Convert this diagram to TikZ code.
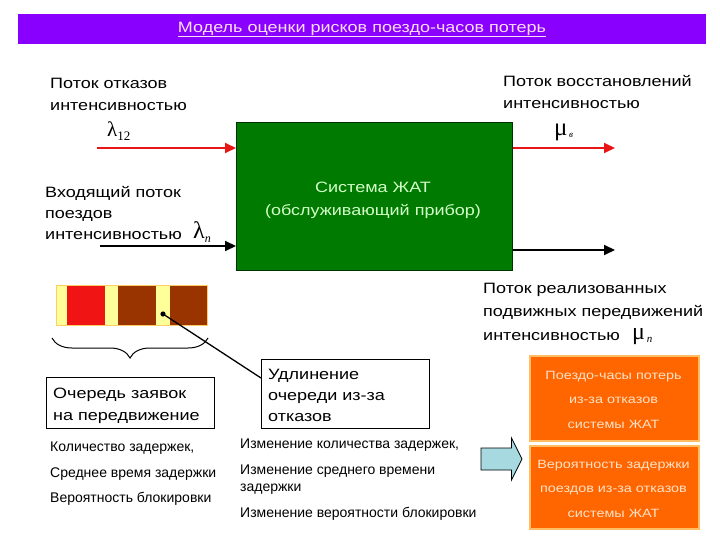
\documentclass[tikz,border=0pt]{standalone}
\usepackage{fontspec}
\setmainfont[FakeStretch=1.2]{Liberation Sans}
\newfontfamily\plainsans{Liberation Sans}
\newfontfamily\srf{Liberation Serif}
\usetikzlibrary{arrows.meta,decorations.pathreplacing}
\definecolor{ttlbg}{RGB}{138,0,255}
\definecolor{ttltx}{RGB}{255,222,245}
\definecolor{gbox}{RGB}{0,122,0}
\definecolor{gboxd}{RGB}{0,50,0}
\definecolor{gtext}{RGB}{210,255,200}
\definecolor{redarr}{RGB}{232,22,22}
\definecolor{qyel}{RGB}{255,255,153}
\definecolor{qred}{RGB}{240,20,20}
\definecolor{qbrown}{RGB}{153,51,0}
\definecolor{qedge}{RGB}{255,204,102}
\definecolor{obox}{RGB}{255,102,0}
\definecolor{oedge}{RGB}{255,190,100}
\definecolor{otext}{RGB}{255,226,200}
\definecolor{barrow}{RGB}{166,217,224}
\tikzset{
  lbl/.style={inner sep=0pt, anchor=base west, align=left, font=\fontsize{15}{21.5}\selectfont},
  small/.style={inner sep=0pt, anchor=base west, align=left, font=\plainsans\fontsize{14}{16}\selectfont},
  frame/.style={draw=black, line width=0.9pt, fill=white},
  flow/.style={line width=2pt, -{Triangle[length=11pt,width=10pt]}},
  obx/.style={fill=obox, draw=oedge, line width=1.5pt},
  otx/.style={inner sep=0pt, anchor=base, text=otext, font=\fontsize{12}{14}\selectfont},
}
\begin{document}
\begin{tikzpicture}[x=1pt,y=-1pt]
\useasboundingbox (0,0) rectangle (720,540);
\fill[white] (0,0) rectangle (720,540);
% title
\fill[ttlbg] (18,14) rectangle (706,44);
\node[inner sep=0pt, text=ttltx, font=\fontsize{15}{18}\selectfont] (title) at (362,29.5) {\underline{Модель оценки рисков поездо-часов потерь}};
% green box
\node[draw=gboxd, fill=gbox, line width=1pt, minimum width=276pt, minimum height=148pt, anchor=north west, inner sep=0pt] (sys) at (236,122) {};
\node[inner sep=0pt, anchor=base, align=center, text=gtext, font=\fontsize{15}{23}\selectfont] (systx) at (373,215) {Система ЖАТ\\(обслуживающий прибор)};
% left labels
\node[lbl, font=\fontsize{15}{22}\selectfont] (fail) at (50,111) {Поток отказов\\интенсивностью};
\node[inner sep=0pt, anchor=base west, font=\srf\fontsize{21}{22}\selectfont] (lam12) at (107,137) {λ\raisebox{-4pt}{\fontsize{13}{14}\selectfont 12}};
\node[lbl] (inc) at (45,240) {Входящий поток\\поездов\\интенсивностью};
\node[inner sep=0pt, anchor=base west, font=\srf\fontsize{24}{25}\selectfont] (lamp) at (193,238) {λ\raisebox{-4pt}{\itshape\fontsize{12}{13}\selectfont п}};
% right labels
\node[lbl, font=\fontsize{15}{22}\selectfont] (rest) at (503,109) {Поток восстановлений\\интенсивностью};
\node[inner sep=0pt, anchor=base west, font=\srf\fontsize{25}{25}\selectfont] (mub) at (554,136) {μ\raisebox{-2pt}{\itshape\fontsize{9}{10}\selectfont\,в}};
\node[lbl, font=\fontsize{15}{23.5}\selectfont] (real) at (483,340) {Поток реализованных\\подвижных передвижений\\интенсивностью};
\node[inner sep=0pt, anchor=base west, font=\srf\fontsize{24}{24}\selectfont] (mup) at (632,339) {μ\raisebox{-3pt}{\itshape\fontsize{11}{12}\selectfont\,п}};
% flows
\coordinate (f1s) at (97,148);
\coordinate (f2s) at (100,246);
\coordinate (f3e) at (615,148);
\coordinate (f4e) at (615,250);
\draw[flow, redarr] (f1s) -- (f1s -| sys.west);
\draw[flow, black] (f2s) -- (f2s -| sys.west);
\draw[flow, redarr] (f3e -| sys.east) -- (f3e);
\draw[flow, black] (f4e -| sys.east) -- (f4e);
% queue
\draw[qedge, line width=0.6pt, fill=qyel] (56,285) rectangle (207,325);
\node[fill=qred, inner sep=0pt, anchor=north west, minimum width=38pt, minimum height=40pt] (q1) at (67,285) {};
\node[fill=qbrown, inner sep=0pt, anchor=north west, minimum width=38.5pt, minimum height=40pt] (q2) at (117.5,285) {};
\node[fill=qbrown, inner sep=0pt, anchor=north west, minimum width=37.5pt, minimum height=40pt] (q3) at (169.5,285) {};
\draw[qedge, line width=0.6pt] (56,285) rectangle (207,325);
\coordinate (dot) at (163,314);
\fill (dot) circle (2.6pt);
\draw[line width=1pt, decorate, decoration={brace, mirror, amplitude=20pt}] (52,338) -- (208,338);
% boxes
\node[frame, anchor=north west, minimum width=168pt, minimum height=51pt, inner sep=0pt] (qbox) at (46,377) {};
\node[inner sep=0pt, anchor=base west, align=left, font=\fontsize{15}{22}\selectfont] (qtx) at (53,420) {Очередь заявок\\на передвижение};
\node[frame, anchor=north west, minimum width=168pt, minimum height=69pt, inner sep=0pt] (ubox) at (261,359) {};
\node[inner sep=0pt, anchor=base west, align=left, font=\fontsize{15}{21}\selectfont] (utx) at (268,421) {Удлинение\\очереди из-за\\отказов};
\draw[line width=1.3pt] (dot) -- (ubox.west |- 0,378);
% lists
\node[small] (l1) at (50,451) {Количество задержек,};
\node[small] (l2) at (50,477) {Среднее время задержки};
\node[small] (l3) at (50,502) {Вероятность блокировки};
\node[small] (m1) at (240,448) {Изменение количества задержек,};
\node[small, font=\plainsans\fontsize{14}{16.5}\selectfont] (m2) at (240,491) {Изменение среднего времени\\задержки};
\node[small] (m3) at (240,517) {Изменение вероятности блокировки};
% block arrow
\draw[fill=barrow, draw=black, line width=0.8pt] (481,448) -- (511.5,448) -- (511.5,438) -- (522,459) -- (511.5,480) -- (511.5,470) -- (481,470) -- cycle;
% orange boxes
\node[obx, anchor=north west, minimum width=169pt, minimum height=85pt, inner sep=0pt] (ob1) at (529,355) {};
\node[otx] (o11) at (613.5,379) {Поездо-часы потерь};
\node[otx] (o12) at (613.5,403) {из-за отказов};
\node[otx] (o13) at (613.5,428) {системы ЖАТ};
\node[obx, anchor=north west, minimum width=169pt, minimum height=83pt, inner sep=0pt] (ob2) at (529,445) {};
\node[otx] (o21) at (613.5,468) {Вероятность задержки};
\node[otx] (o22) at (613.5,492) {поездов из-за отказов};
\node[otx] (o23) at (613.5,517) {системы ЖАТ};
\end{tikzpicture}
\end{document}
